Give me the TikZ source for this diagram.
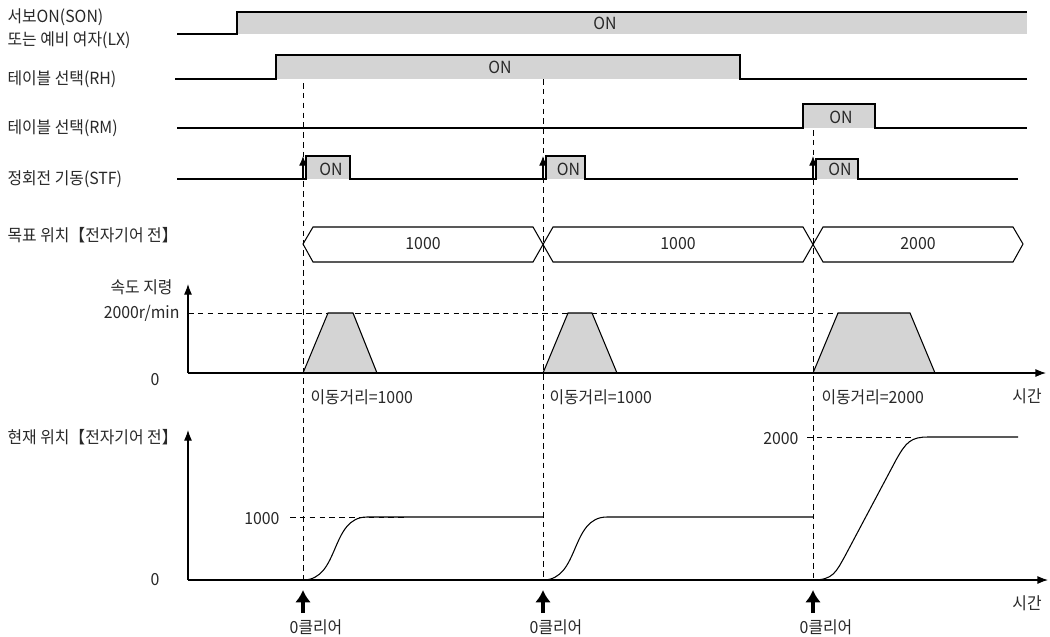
\documentclass[tikz,border=0pt]{standalone}
\usepackage{fontspec}
\setmainfont[FakeStretch=0.95]{Noto Sans CJK KR}
\usetikzlibrary{arrows.meta}
\definecolor{pulsegray}{RGB}{212,212,212}
\definecolor{txtgray}{RGB}{40,40,40}

\begin{document}
\begin{tikzpicture}[
    x=0.02cm, y=-0.02cm,
    font=\fontsize{9.5}{11}\selectfont\color{txtgray},
    line width=0.6pt,
    guide/.style={dash pattern=on 3.2pt off 2.4pt, line width=0.5pt},
    sigtext/.style={anchor=west, inner sep=0pt},
    ontext/.style={inner sep=0pt},
    axisarrow/.style={-{Latex[length=6pt,width=4.5pt]}},
    edgearrow/.style={-{Latex[length=5.5pt,width=4.5pt]}},
    cleararrow/.style={line width=2.2pt, -{Latex[length=7pt,width=9pt]}}
]
\useasboundingbox (0,0) rectangle (1050,636);

%% Popisy signalov
\node[sigtext] (son1) at (7,17) {서보ON(SON)};
\node[sigtext] (son2) at (7,40) {또는 예비 여자(LX)};
\node[sigtext] (rh) at (7,79) {테이블 선택(RH)};
\node[sigtext] (rm) at (7,128) {테이블 선택(RM)};
\node[sigtext] (stf) at (7,179) {정회전 기동(STF)};
\node[sigtext] (tgt) at (7,235) {목표 위치【전자기어 전】};

%% SON
\fill[pulsegray] (237,12) rectangle (1027,34);
\draw (177,34) -- (237,34) -- (237,12) -- (1027,12);
\node[ontext] (onson) at (605,23) {ON};

%% RH
\fill[pulsegray] (276,55) rectangle (740,79);
\draw (175,79) -- (276,79) -- (276,55) -- (740,55) -- (740,79) -- (1027,79);
\node[ontext] (onrh) at (500,67) {ON};

%% RM
\fill[pulsegray] (803,104) rectangle (875,128);
\draw (177,128) -- (803,128) -- (803,104) -- (875,104) -- (875,128) -- (1027,128);
\node[ontext] (onrm) at (841,117) {ON};

%% STF
\foreach \xa/\xb/\yt/\n in {306/350/156/1, 546/585/156/2, 816/858/159/3} {
    \fill[pulsegray] (\xa,\yt) rectangle (\xb,179);
    \node[ontext] (onstf\n) at ({(\xa+\xb)/2+3},169) {ON};
}
\draw (177,179) -- (306,179) -- (306,156) -- (350,156) -- (350,179)
    -- (546,179) -- (546,156) -- (585,156) -- (585,179)
    -- (816,179) -- (816,159) -- (858,159) -- (858,179) -- (1018,179);

%% Prerusovane casove ciary + sipky
\foreach \x/\ytop/\n in {303/83/1, 543/79/2, 813/130/3} {
    \coordinate (gtop\n) at (\x,\ytop);
    \coordinate (gbot\n) at (\x,580);
    \draw[guide] (gtop\n) -- (gbot\n);
    \coordinate (ea\n) at (\x,179);
    \coordinate (eb\n) at (\x,156);
    \draw[edgearrow] (ea\n) -- (eb\n);
    \coordinate (ca\n) at (\x,613);
    \coordinate (cb\n) at (\x,590);
    \draw[cleararrow] (ca\n) -- (cb\n);
    \node[inner sep=0pt] (clr\n) at (\x+13,627) {0클리어};
}

%% Cielova poloha
\draw (303,244) -- (313,227) -- (533,227) -- (553,262) -- (803,262) -- (823,227)
    -- (1013,227) -- (1023,244) -- (1013,262) -- (823,262) -- (803,227)
    -- (553,227) -- (533,262) -- (313,262) -- cycle;
\node[ontext] (tv1) at (423,244) {1000};
\node[ontext] (tv2) at (678,244) {1000};
\node[ontext] (tv3) at (918,244) {2000};

%% Rychlost
\coordinate (vo) at (188,373);
\coordinate (vy) at (188,284);
\coordinate (vx) at (1046,373);
\draw[guide] (188,313) -- (838,313);
\foreach \xa/\xb/\xc/\xd in {303/328/353/377, 543/568/592/617, 813/838/910/935} {
    \draw[fill=pulsegray] (\xa,373) -- (\xb,313) -- (\xc,313) -- (\xd,373);
}
\draw[axisarrow] (vo) -- (vy);
\draw[axisarrow] (vo) -- (vx);
\node[anchor=east, inner sep=0pt] (vlbl) at (173,287) {속도 지령};
\node[anchor=east, inner sep=0pt] (vmax) at (180,313) {2000r/min};
\node[inner sep=0pt] (vzero) at (155,380) {0};
\node[inner sep=0pt] (vtime) at (1027,396) {시간};
\node[sigtext] (d1) at (310,397) {이동거리=1000};
\node[sigtext] (d2) at (549,397) {이동거리=1000};
\node[sigtext] (d3) at (821,397) {이동거리=2000};

%% Aktualna poloha
\coordinate (po) at (188,580);
\coordinate (py) at (188,430);
\coordinate (px) at (1048,580);
\node[sigtext] (cur) at (7,437) {현재 위치【전자기어 전】};
\draw[guide] (290,517) -- (405,517);
\draw[guide] (807,437) -- (915,437);
\draw (303,580) .. controls (340,580) and (330,517) .. (367,517) -- (543,517);
\draw (543,580) .. controls (580,580) and (570,517) .. (607,517) -- (813,517);
\draw (813,580) .. controls (833,580) and (836,572) .. (845,556) -- (896,460)
    .. controls (906,442) and (911,437) .. (928,437) -- (1018,437);
\draw[axisarrow] (po) -- (py);
\draw[axisarrow] (po) -- (px);
\node[anchor=east, inner sep=0pt] (p1000) at (280,519) {1000};
\node[anchor=east, inner sep=0pt] (p2000) at (799,439) {2000};
\node[inner sep=0pt] (pzero) at (155,580) {0};
\node[inner sep=0pt] (ptime) at (1027,603) {시간};

\end{tikzpicture}
\end{document}
